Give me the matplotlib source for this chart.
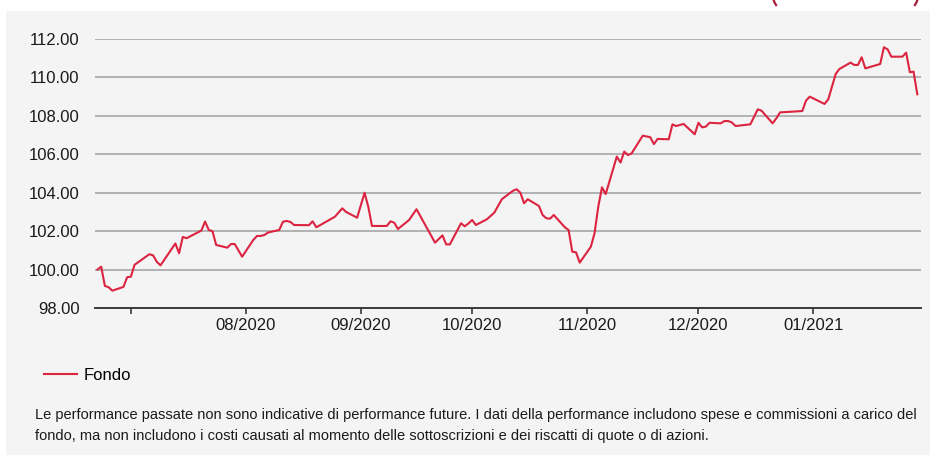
import matplotlib
matplotlib.use("Agg")
import matplotlib.pyplot as plt
import pandas as pd
from matplotlib.patches import Rectangle, Arc
from matplotlib.transforms import IdentityTransform

# Fund value
dates = [
    "2020-06-22", "2020-06-23", "2020-06-24", "2020-06-25", "2020-06-26", "2020-06-29", "2020-06-30",
    "2020-07-01", "2020-07-02", "2020-07-06", "2020-07-07", "2020-07-08", "2020-07-09", "2020-07-13",
    "2020-07-14", "2020-07-15", "2020-07-16", "2020-07-20", "2020-07-21", "2020-07-22", "2020-07-23",
    "2020-07-24", "2020-07-27", "2020-07-28", "2020-07-29", "2020-07-31", "2020-08-03", "2020-08-04",
    "2020-08-05", "2020-08-06", "2020-08-07", "2020-08-10", "2020-08-11", "2020-08-12", "2020-08-13",
    "2020-08-14", "2020-08-18", "2020-08-19", "2020-08-20", "2020-08-25", "2020-08-27", "2020-08-28",
    "2020-08-31", "2020-09-02", "2020-09-03", "2020-09-04", "2020-09-08", "2020-09-09", "2020-09-10",
    "2020-09-11", "2020-09-14", "2020-09-16", "2020-09-21", "2020-09-23", "2020-09-24", "2020-09-25",
    "2020-09-28", "2020-09-29", "2020-09-30", "2020-10-01", "2020-10-02", "2020-10-05", "2020-10-07",
    "2020-10-09", "2020-10-12", "2020-10-13", "2020-10-14", "2020-10-15", "2020-10-16", "2020-10-19",
    "2020-10-20", "2020-10-21", "2020-10-22", "2020-10-23", "2020-10-26", "2020-10-27", "2020-10-28",
    "2020-10-29", "2020-10-30", "2020-11-02", "2020-11-03", "2020-11-04", "2020-11-05", "2020-11-06",
    "2020-11-09", "2020-11-10", "2020-11-11", "2020-11-12", "2020-11-13", "2020-11-16", "2020-11-18",
    "2020-11-19", "2020-11-20", "2020-11-23", "2020-11-24", "2020-11-25", "2020-11-27", "2020-11-30",
    "2020-12-01", "2020-12-02", "2020-12-03", "2020-12-04", "2020-12-07", "2020-12-08", "2020-12-09",
    "2020-12-10", "2020-12-11", "2020-12-15", "2020-12-17", "2020-12-18", "2020-12-21", "2020-12-22",
    "2020-12-23", "2020-12-29", "2020-12-30", "2020-12-31", "2021-01-04", "2021-01-05", "2021-01-07",
    "2021-01-08", "2021-01-11", "2021-01-12", "2021-01-13", "2021-01-14", "2021-01-15", "2021-01-19",
    "2021-01-20", "2021-01-21", "2021-01-22", "2021-01-25", "2021-01-26", "2021-01-27", "2021-01-28",
    "2021-01-29",
]
fondo = [
    100.00, 100.15, 99.15, 99.08, 98.90, 99.10, 99.60,
    99.63, 100.25, 100.80, 100.74, 100.40, 100.22, 101.36,
    100.85, 101.70, 101.63, 102.03, 102.50, 102.06, 102.00,
    101.28, 101.14, 101.33, 101.33, 100.67, 101.54, 101.75,
    101.75, 101.80, 101.93, 102.06, 102.49, 102.53, 102.48,
    102.32, 102.31, 102.51, 102.20, 102.75, 103.19, 103.00,
    102.70, 104.00, 103.27, 102.27, 102.27, 102.51, 102.44,
    102.11, 102.58, 103.14, 101.40, 101.78, 101.31, 101.31,
    102.41, 102.25, 102.40, 102.58, 102.32, 102.62, 102.97,
    103.66, 104.10, 104.18, 104.00, 103.45, 103.66, 103.31,
    102.84, 102.67, 102.65, 102.84, 102.20, 102.06, 100.93,
    100.90, 100.36, 101.19, 101.89, 103.27, 104.28, 103.93,
    105.88, 105.57, 106.14, 105.96, 106.05, 106.97, 106.89,
    106.53, 106.80, 106.78, 107.56, 107.47, 107.58, 107.04,
    107.64, 107.40, 107.44, 107.64, 107.61, 107.73, 107.73,
    107.66, 107.47, 107.56, 108.34, 108.27, 107.61, 107.87,
    108.18, 108.25, 108.79, 109.00, 108.62, 108.86, 110.18,
    110.44, 110.77, 110.65, 110.65, 111.05, 110.47, 110.70,
    111.57, 111.46, 111.08, 111.08, 111.29, 110.27, 110.30,
    109.12,
]
y_ticks = [98, 100, 102, 104, 106, 108, 110, 112]
month_ticks = ["2020-07-01", "2020-08-01", "2020-09-01", "2020-10-01",
               "2020-11-01", "2020-12-01", "2021-01-01"]
month_labels = ["", "08/2020", "09/2020", "10/2020", "11/2020", "12/2020", "01/2021"]

footer1 = ("Le performance passate non sono indicative di performance future. I dati della "
           "performance includono spese e commissioni a carico del")
footer2 = ("fondo, ma non includono i costi causati al momento delle sottoscrizioni e dei "
           "riscatti di quote o di azioni.")

plt.rcParams["font.family"] = ["Liberation Sans", "DejaVu Sans"]

W, H = 937, 455
fig = plt.figure(figsize=(W / 100, H / 100), dpi=100, facecolor="white")

# grey panel behind everything
fig.add_artist(Rectangle((6 / W, 0), 924 / W, 444 / H, transform=fig.transFigure,
                         facecolor="#f4f4f4", edgecolor="none", zorder=0))
# bottoms of the brackets of a title cut off above the picture
fig.add_artist(Arc((785, H + 5), 24, 30, theta1=180, theta2=233, transform=IdentityTransform(),
                   color="#a51d36", linewidth=1.6))
fig.add_artist(Arc((906, H + 5), 24, 30, theta1=307, theta2=360, transform=IdentityTransform(),
                   color="#a51d36", linewidth=1.6))

ax = fig.add_axes([95 / W, 1 - 308 / H, 826 / W, (308 - 39) / H])
ax.set_facecolor("none")

x = pd.to_datetime(dates)
line, = ax.plot(x, fondo, color="#dc2440", linewidth=1.5, label="Fondo", zorder=3)

ax.set_ylim(98, 112)
ax.set_xlim(pd.Timestamp("2020-06-21 08:00"), pd.Timestamp("2021-01-30 00:00"))
ax.set_yticks(y_ticks)
ax.set_yticklabels([f"{v:.2f}" for v in y_ticks])
ax.set_xticks(pd.to_datetime(month_ticks))
ax.set_xticklabels(month_labels)

ax.grid(axis="y", color="#a6a6a6", linewidth=1.2)
ax.set_axisbelow(True)
for s in ["top", "right", "left"]:
    ax.spines[s].set_visible(False)
ax.spines["bottom"].set_color("#3a3a3a")
ax.spines["bottom"].set_linewidth(1.4)

ax.tick_params(axis="y", length=0, pad=11, labelsize=12, labelcolor="#1a1a1a")
ax.tick_params(axis="x", length=4, width=1.2, color="#3a3a3a", pad=3,
               labelsize=12, labelcolor="#1a1a1a")

fig.legend(handles=[line], loc="center left", bbox_to_anchor=(44 / W, 1 - 375 / H),
           frameon=False, fontsize=12, handlelength=1.95, handletextpad=0.45,
           borderpad=0, borderaxespad=0)

fig.text(35 / W, 1 - 415 / H, footer1, fontsize=10.5, va="center", ha="left", color="#1a1a1a")
fig.text(35 / W, 1 - 436 / H, footer2, fontsize=10.5, va="center", ha="left", color="#1a1a1a")

fig.savefig("out.png", dpi=100, facecolor=fig.get_facecolor())
